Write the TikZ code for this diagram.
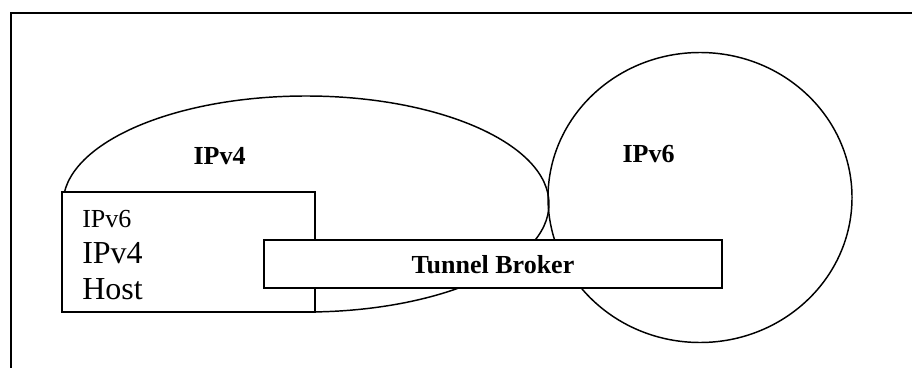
\documentclass[tikz,border=0pt]{standalone}
\usepackage{fontspec}
\setmainfont{Liberation Serif}
\usetikzlibrary{shapes.geometric}
\begin{document}
\begin{tikzpicture}[x=0.75pt,y=-0.75pt,
  region/.style={draw=black,line width=1.1pt,inner sep=0pt},
  boxx/.style={draw=black,fill=white,line width=1.5pt,inner sep=0pt,rectangle},
  blabel/.style={font=\fontsize{19.5}{20}\selectfont\bfseries,inner sep=0pt,anchor=base},
  htext/.style={inner sep=0pt,anchor=base west}]
\useasboundingbox (0,0) rectangle (912,367);
\coordinate (fbl) at (11,368);
\coordinate (ftl) at (11,13);
\coordinate (ftr) at (913,13);
\draw[line width=1.1pt] (fbl) -- (ftl) -- (ftr);
\node[region,ellipse,minimum width=364.5pt,minimum height=162pt] (v4) at (306,204) {};
\node[region,ellipse,minimum width=228pt,minimum height=217.5pt] (v6) at (700,197.5) {};
\node[blabel] (v4l) at (219.5,164.5) {IPv4};
\node[blabel] (v6l) at (648.5,162) {IPv6};
\node[boxx,minimum width=189.75pt,minimum height=90pt] (host) at (188.5,252) {};
\node[htext,font=\fontsize{19.5}{20}\selectfont] (h1) at (82,227) {IPv6};
\node[htext,font=\fontsize{24}{26}\selectfont] (h2) at (82,263) {IPv4};
\node[htext,font=\fontsize{24}{26}\selectfont] (h3) at (82,299) {Host};
\node[boxx,minimum width=343.5pt,minimum height=36pt] (tb) at (493,264) {};
\node[blabel] (tbl) at (493,273.5) {Tunnel Broker};
\end{tikzpicture}
\end{document}
